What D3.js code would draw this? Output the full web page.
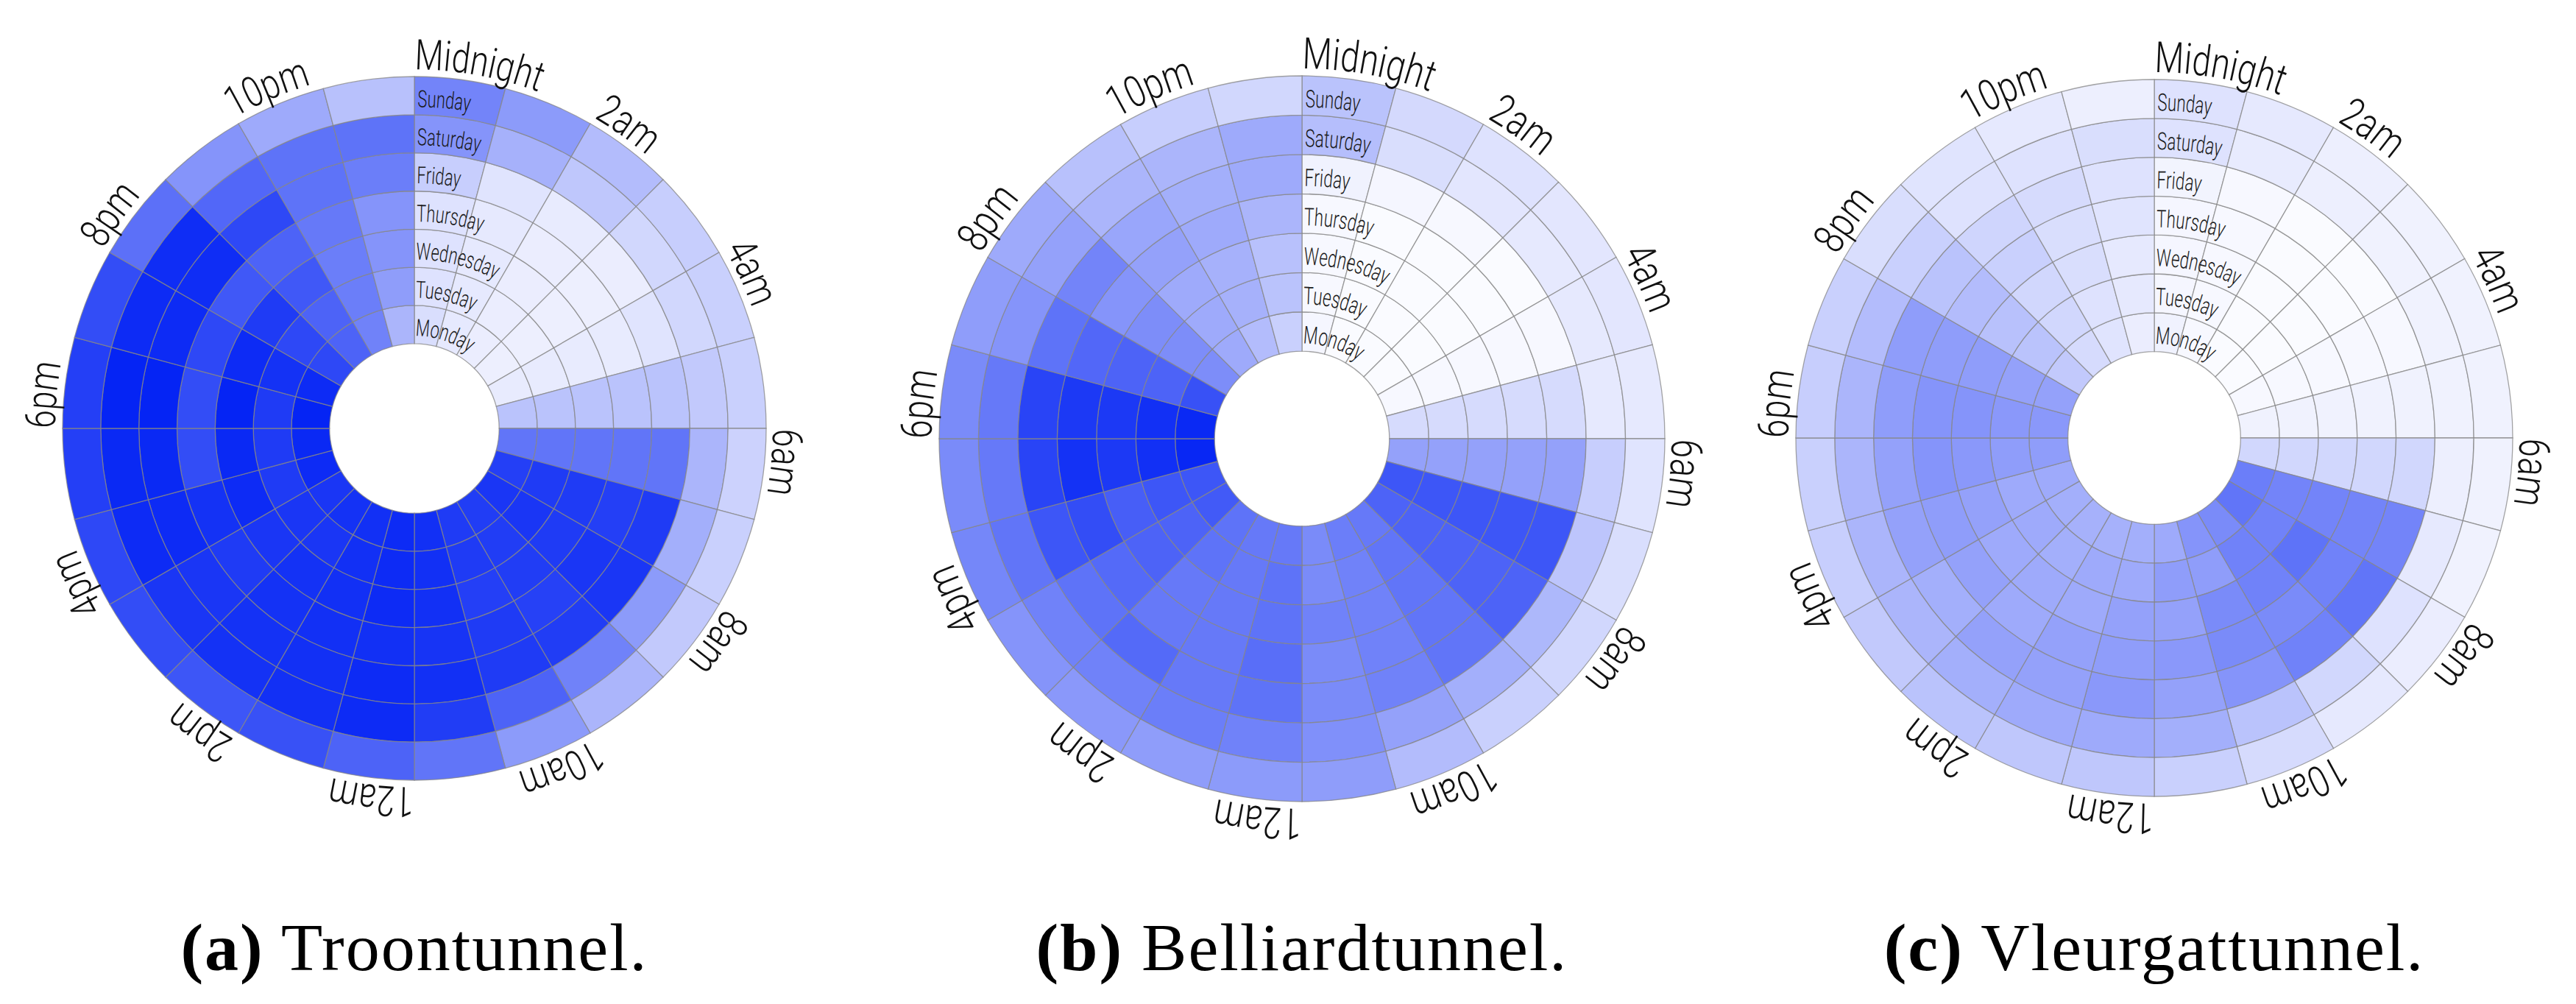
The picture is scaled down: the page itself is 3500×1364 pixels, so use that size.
<!DOCTYPE html>
<html>
<head>
<meta charset="utf-8">
<script src="https://cdn.jsdelivr.net/npm/d3@7"></script>
<style>
  body { margin: 0; background: #fff; }
  .seg-label { font-family: Roboto, "Liberation Sans", sans-serif; font-weight: 300; fill: #111; }
  .day-label { font-family: Roboto, "Liberation Sans", sans-serif; font-weight: 300; fill: #1a1a1a; }
  .caption { font-family: "Liberation Serif", "DejaVu Serif", serif; fill: #000; }
</style>
</head>
<body>
<svg id="chart"></svg>
<script>
// rings, inner to outer
const days = ["Monday", "Tuesday", "Wednesday", "Thursday", "Friday", "Saturday", "Sunday"];
const segmentLabels = ["Midnight", "2am", "4am", "6am", "8am", "10am", "12am", "2pm", "4pm", "6pm", "8pm", "10pm"];
const segmentHours = [0, 2, 4, 6, 8, 10, 12, 14, 16, 18, 20, 22];
const captions = [["(a)", "Troontunnel."], ["(b)", "Belliardtunnel."], ["(c)", "Vleurgattunnel."]];

// relative traffic (0-100), one row per hour, values Monday..Sunday
const troontunnel = [
  [15, 13, 13, 13, 22, 48, 55],
  [10, 10, 10, 10, 12, 35, 45],
  [8, 8, 8, 8, 9, 25, 30],
  [7, 7, 7, 7, 8, 18, 22],
  [9, 9, 9, 9, 12, 18, 21],
  [27, 27, 27, 27, 27, 24, 21],
  [62, 62, 62, 62, 62, 33, 20],
  [86, 88, 88, 86, 88, 36, 21],
  [90, 90, 88, 90, 90, 45, 24],
  [87, 87, 87, 85, 87, 56, 33],
  [88, 88, 86, 88, 88, 70, 45],
  [93, 93, 93, 91, 93, 87, 62],
  [95, 95, 95, 93, 95, 95, 70],
  [93, 93, 93, 93, 93, 93, 78],
  [92, 90, 92, 92, 92, 92, 76],
  [90, 90, 90, 88, 90, 90, 80],
  [95, 88, 95, 92, 95, 95, 82],
  [96, 88, 96, 80, 96, 96, 86],
  [98, 88, 98, 80, 98, 98, 86],
  [95, 92, 95, 82, 95, 95, 80],
  [82, 82, 88, 75, 94, 94, 64],
  [70, 70, 75, 70, 82, 68, 48],
  [56, 58, 58, 60, 63, 63, 38],
  [33, 44, 48, 48, 58, 63, 28]
];

const belliardtunnel = [
  [4, 3, 3, 3, 6, 29, 27],
  [2, 2, 2, 2, 4, 15, 17],
  [2, 2, 2, 2, 3, 11, 13],
  [2, 2, 2, 2, 2, 10, 11],
  [3, 3, 3, 3, 3, 10, 11],
  [16, 16, 16, 16, 16, 10, 10],
  [42, 42, 42, 42, 42, 22, 12],
  [76, 76, 76, 76, 76, 26, 15],
  [70, 70, 70, 70, 70, 32, 18],
  [60, 62, 62, 62, 62, 36, 21],
  [58, 56, 56, 56, 56, 42, 30],
  [52, 52, 56, 52, 52, 50, 44],
  [60, 63, 63, 65, 63, 56, 45],
  [60, 60, 60, 60, 60, 58, 44],
  [63, 63, 60, 60, 67, 56, 46],
  [74, 70, 70, 67, 63, 56, 48],
  [76, 76, 72, 80, 76, 62, 54],
  [97, 93, 89, 92, 84, 60, 52],
  [96, 93, 89, 89, 84, 60, 52],
  [78, 70, 70, 68, 63, 48, 44],
  [51, 51, 51, 48, 55, 42, 38],
  [38, 38, 38, 42, 40, 33, 28],
  [30, 35, 35, 38, 36, 33, 22],
  [21, 27, 28, 33, 38, 38, 18]
];

const vleurgattunnel = [
  [6, 4, 4, 4, 5, 13, 13],
  [3, 3, 3, 3, 3, 9, 10],
  [2, 2, 2, 2, 2, 7, 7],
  [2, 2, 2, 2, 2, 6, 6],
  [3, 3, 3, 3, 3, 6, 6],
  [6, 6, 6, 6, 6, 6, 6],
  [18, 18, 18, 18, 18, 7, 6],
  [58, 55, 55, 55, 55, 10, 6],
  [62, 56, 63, 56, 62, 13, 8],
  [52, 56, 56, 52, 56, 18, 10],
  [48, 44, 52, 52, 48, 27, 16],
  [38, 44, 42, 46, 42, 36, 21],
  [36, 38, 42, 44, 46, 38, 25],
  [35, 38, 38, 42, 42, 38, 25],
  [35, 36, 38, 38, 42, 36, 27],
  [36, 38, 38, 42, 36, 33, 24],
  [38, 38, 42, 44, 42, 33, 22],
  [44, 44, 46, 48, 42, 33, 21],
  [46, 46, 48, 48, 44, 33, 22],
  [42, 42, 44, 44, 44, 30, 21],
  [24, 27, 28, 30, 27, 21, 15],
  [16, 18, 18, 21, 19, 13, 12],
  [12, 13, 15, 15, 16, 13, 10],
  [8, 10, 10, 12, 13, 15, 7]
];

const width = 3500, height = 1364;
const svg = d3.select("#chart")
  .attr("width", width)
  .attr("height", height);

const color = d3.scaleLinear().domain([0, 100]).range(["#ffffff", "#0020f4"]);

// where each chart sits
const panels = [
  {data: troontunnel, cx: 563, cy: 582, r: 478},
  {data: belliardtunnel, cx: 1769, cy: 596, r: 493},
  {data: vleurgattunnel, cx: 2927, cy: 595, r: 487}
];

panels.forEach((p, k) => drawHeat(p, k));

// squeeze label glyphs along their path (the original labels are very condensed)
function squeeze(sel, k) {
  sel.each(function() {
    const len = this.getComputedTextLength();
    d3.select(this)
      .attr("textLength", len * k)
      .attr("lengthAdjust", "spacingAndGlyphs");
  });
}

function drawHeat(p, id) {
  const g = svg.append("g").attr("transform", `translate(${p.cx},${p.cy})`);
  const inner = p.r * 0.241;
  const ring = d3.scaleLinear().domain([0, days.length]).range([inner, p.r]);
  const angle = d3.scaleLinear().domain([0, 24]).range([0, 2 * Math.PI]);
  const segH = ring(1) - ring(0);

  const cells = [];
  p.data.forEach((row, h) => row.forEach((v, d) => cells.push({h, d, v})));

  const arc = d3.arc()
    .innerRadius(c => ring(c.d))
    .outerRadius(c => ring(c.d + 1))
    .startAngle(c => angle(c.h))
    .endAngle(c => angle(c.h + 1));

  g.selectAll("path.cell")
    .data(cells)
    .join("path")
    .attr("class", "cell")
    .attr("d", arc)
    .attr("fill", c => color(c.v))
    .attr("stroke", "#858585")
    .attr("stroke-opacity", 0.75)
    .attr("stroke-width", 1.3);

  const defs = g.append("defs");

  // day labels follow the rings, starting at midnight
  const lsa = 0.01;
  days.forEach((day, i) => {
    const rr = ring(i + 0.2);
    const x0 = rr * Math.sin(lsa), y0 = -rr * Math.cos(lsa);
    defs.append("path")
      .attr("id", `day-path-${id}-${i}`)
      .attr("d", `M${x0},${y0} A${rr},${rr} 0 1 1 ${x0 - 1},${y0}`);
  });

  const dayText = g.selectAll("text.day-label")
    .data(days)
    .join("text")
    .attr("class", "day-label")
    .style("font-size", (segH * 0.62) + "px")
    .append("textPath")
    .attr("href", (d, i) => `#day-path-${id}-${i}`)
    .text(d => d);
  squeeze(dayText, 0.68);

  // hour labels around the outside
  const rs = p.r + p.r * 0.02;
  defs.append("path")
    .attr("id", `seg-path-${id}`)
    .attr("d", `M0,${-rs} A${rs},${rs} 0 1 1 -1,${-rs}`);

  const segText = g.selectAll("text.seg-label")
    .data(segmentLabels)
    .join("text")
    .attr("class", "seg-label")
    .style("font-size", (p.r * 0.12) + "px")
    .append("textPath")
    .attr("href", `#seg-path-${id}`)
    .attr("startOffset", (d, i) => (segmentHours[i] * 100 / 24) + "%")
    .text(d => d);
  squeeze(segText, 0.78);

  // caption
  const cap = svg.append("text")
    .attr("class", "caption")
    .attr("x", p.cx)
    .attr("y", 1318)
    .attr("text-anchor", "middle")
    .style("font-size", "92px")
    .style("letter-spacing", "2px");
  cap.append("tspan").attr("font-weight", "bold").text(captions[id][0]);
  cap.append("tspan").text(" " + captions[id][1]);
}
</script>
</body>
</html>
